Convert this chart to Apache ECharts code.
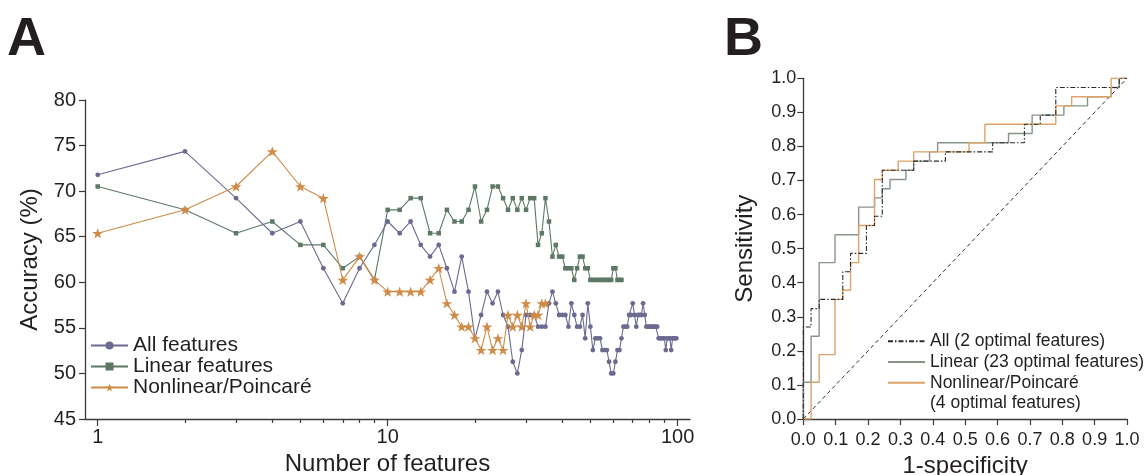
<!DOCTYPE html>
<html>
<head>
<meta charset="utf-8">
<script src="https://cdn.jsdelivr.net/npm/echarts@6/dist/echarts.min.js"></script>
<style>
  html, body { margin: 0; padding: 0; background: #ffffff; }
  #chart { width: 1145px; height: 475px; }
</style>
</head>
<body>
<div id="chart"></div>
<script>
// ---------- Panel A: accuracy (%) versus number of selected features (1..N) ----------
const allFeatures = [
  71.79, 74.36, 69.23, 65.38, 66.67, 61.54, 57.69, 61.54, 64.10, 66.67,
  65.38, 66.67, 64.10, 62.82, 64.10, 61.54, 58.97, 62.82, 58.97, 53.85,
  56.41, 58.97, 57.69, 58.97, 56.41, 55.13, 51.28, 50.00, 52.56, 56.41,
  56.41, 56.41, 55.13, 55.13, 55.13, 57.69, 58.97, 57.69, 56.41, 56.41,
  56.41, 55.13, 57.69, 56.41, 55.13, 55.13, 56.41, 53.85, 57.69, 55.13,
  52.56, 53.85, 53.85, 53.85, 52.56, 52.56, 52.56, 51.28, 50.00, 50.00,
  51.28, 52.56, 52.56, 53.85, 55.13, 55.13, 55.13, 56.41, 56.41, 57.69,
  56.41, 55.13, 56.41, 56.41, 56.41, 57.69, 56.41, 55.13, 55.13, 55.13,
  55.13, 55.13, 55.13, 55.13, 55.13, 53.85, 53.85, 53.85, 53.85, 53.85,
  52.56, 53.85, 53.85, 53.85, 52.56, 53.85, 53.85, 53.85, 53.85
];
const linearFeatures = [
  70.51, 67.95, 65.38, 66.67, 64.10, 64.10, 61.54, 62.82, 60.26, 67.95,
  67.95, 69.23, 69.23, 65.38, 65.38, 67.95, 66.67, 66.67, 67.95, 70.51,
  66.67, 67.95, 70.51, 70.51, 69.23, 67.95, 69.23, 67.95, 69.23, 67.95,
  69.23, 69.23, 64.10, 65.38, 69.23, 66.67, 62.82, 64.10, 62.82, 62.82,
  61.54, 61.54, 61.54, 60.26, 61.54, 62.82, 62.82, 61.54, 61.54, 60.26,
  60.26, 60.26, 60.26, 60.26, 60.26, 60.26, 60.26, 60.26, 60.26, 61.54,
  61.54, 60.26, 60.26, 60.26
];
const nonlinearFeatures = [
  65.38, 67.95, 70.51, 74.36, 70.51, 69.23, 60.26, 62.82, 60.26, 58.97,
  58.97, 58.97, 58.97, 60.26, 61.54, 57.69, 56.41, 55.13, 55.13, 53.85,
  52.56, 55.13, 52.56, 53.85, 52.56, 56.41, 55.13, 56.41, 55.13, 57.69,
  55.13, 56.41, 56.41, 57.69, 57.69
];
const accuracyTicks = [45, 80, 5];            // min, max, step of the y axis
const featureMajorTicks = [1, 10, 100];
const featureMinorTicks = [2, 3, 4, 5, 6, 7, 8, 9, 20, 30, 40, 50, 60, 70, 80, 90];
const FEATURE_MIN = 0.904;                    // log axis runs a little past 1 and 100
const FEATURE_MAX = 110.3;

// ---------- Panel B: ROC curves (corner points of each step curve) ----------
const rocAllFpr = [0, 0, 0.024, 0.049, 0.122, 0.146, 0.195, 0.220, 0.244, 0.341, 0.439, 0.585, 0.683, 0.732, 0.780, 0.976, 1.0];
const rocAllTpr = [0, 0.270, 0.324, 0.351, 0.432, 0.486, 0.568, 0.595, 0.730, 0.757, 0.784, 0.811, 0.865, 0.892, 0.973, 1.0, 1.0];
const rocLinearFpr = [0, 0, 0.024, 0.049, 0.098, 0.171, 0.220, 0.244, 0.268, 0.317, 0.341, 0.390, 0.415, 0.634, 0.707, 0.805, 0.878, 0.951, 0.976, 1.0];
const rocLinearTpr = [0, 0.108, 0.243, 0.459, 0.541, 0.622, 0.649, 0.676, 0.703, 0.730, 0.757, 0.784, 0.811, 0.838, 0.892, 0.919, 0.946, 0.973, 1.0, 1.0];
const rocNonlinearFpr = [0, 0.024, 0.049, 0.098, 0.122, 0.146, 0.171, 0.220, 0.244, 0.293, 0.341, 0.512, 0.561, 0.780, 0.829, 0.951, 1.0];
const rocNonlinearTpr = [0, 0.108, 0.189, 0.351, 0.378, 0.459, 0.568, 0.703, 0.730, 0.757, 0.784, 0.811, 0.865, 0.919, 0.946, 1.0, 1.0];
const chanceLine = [[0, 0], [1, 1]];

const NAMES_A = ['All features', 'Linear features', 'Nonlinear/Poincaré'];
const NAMES_B = ['All (2 optimal features)', 'Linear (23 optimal features)', 'Nonlinear/Poincaré\n(4 optimal features)'];

// ---------- styling ----------
const FONT = '"Liberation Sans", Arial, Helvetica, sans-serif';
const TXT = '#231f20';
const AX = '#3a3a3a';
const C_ALL = '#6c6a90';
const C_LIN = '#5d7865';
const C_NL = '#cf8c49';
const C_ROC_ALL = '#2a2a2a';
const C_ROC_LIN = '#869587';
const C_ROC_NL = '#dca468';
const STAR = 'path://M50,2 L61.8,36.3 L97.6,36.3 L68.6,57.6 L79.4,91.6 L50,70.7 L20.6,91.6 L31.4,57.6 L2.4,36.3 L38.2,36.3 Z';

const byFeatureCount = values => values.map((v, i) => [i + 1, v]);
const rocPoints = (fpr, tpr) => fpr.map((f, i) => [f, tpr[i]]);
const oneDecimal = v => v.toFixed(1);

const axisLineStyle = { color: AX, width: 1.3 };
const tickLineStyle = { color: AX, width: 1.2 };

// Tick marks of the log feature axis are laid on helper axes that share its decades.
const LOG_RANGE = [Math.log10(FEATURE_MIN), Math.log10(FEATURE_MAX)];
const tickAxis = (values, length) => ({
  gridIndex: 0, type: 'value', min: LOG_RANGE[0], max: LOG_RANGE[1], position: 'bottom',
  axisLine: { show: false, onZero: false },
  axisTick: { show: true, customValues: values.map(Math.log10), length: length, lineStyle: tickLineStyle },
  axisLabel: { show: false },
  splitLine: { show: false }
});

const chart = echarts.init(document.getElementById('chart'), null, { renderer: 'canvas' });

chart.setOption({
  animation: false,
  backgroundColor: '#ffffff',
  textStyle: { fontFamily: FONT, color: TXT },
  title: [
    { text: 'A', left: 7, top: 13, padding: 0,
      textStyle: { fontSize: 54, fontWeight: 'bold', color: TXT, fontFamily: FONT } },
    { text: 'B', left: 724, top: 13, padding: 0,
      textStyle: { fontSize: 54, fontWeight: 'bold', color: TXT, fontFamily: FONT } }
  ],
  grid: [
    { left: 85, top: 100, width: 605, height: 319, outerBoundsMode: 'none', containLabel: false },
    { left: 803.3, top: 78.3, width: 323.7, height: 340.7, outerBoundsMode: 'none', containLabel: false }
  ],
  xAxis: [
    {
      gridIndex: 0, type: 'log', logBase: 10, min: FEATURE_MIN, max: FEATURE_MAX, position: 'bottom',
      name: 'Number of features', nameLocation: 'middle', nameGap: 33,
      nameTextStyle: { fontSize: 24, color: TXT, fontFamily: FONT },
      axisLine: { onZero: false, lineStyle: axisLineStyle },
      axisTick: { show: false },
      axisLabel: { fontSize: 20, color: TXT, margin: 8, showMinLabel: false, showMaxLabel: false },
      splitLine: { show: false }, minorTick: { show: false }
    },
    tickAxis(featureMajorTicks, 7),
    tickAxis(featureMinorTicks, 4),
    {
      gridIndex: 1, type: 'value', min: 0, max: 1, interval: 0.1, position: 'bottom',
      name: '1-specificity', nameLocation: 'middle', nameGap: 33,
      nameTextStyle: { fontSize: 24, color: TXT, fontFamily: FONT },
      axisLine: { onZero: false, lineStyle: axisLineStyle },
      axisTick: { length: 6, lineStyle: tickLineStyle },
      axisLabel: { fontSize: 18, color: TXT, margin: 12, formatter: oneDecimal },
      splitLine: { show: false }
    }
  ],
  yAxis: [
    {
      gridIndex: 0, type: 'value', min: accuracyTicks[0], max: accuracyTicks[1], interval: accuracyTicks[2],
      name: 'Accuracy (%)', nameLocation: 'middle', nameGap: 40,
      nameTextStyle: { fontSize: 24, color: TXT, fontFamily: FONT },
      axisLine: { show: true, onZero: false, lineStyle: axisLineStyle },
      axisTick: { show: true, length: 6, lineStyle: tickLineStyle },
      axisLabel: { fontSize: 20, color: TXT, margin: 9 },
      splitLine: { show: false }
    },
    {
      gridIndex: 1, type: 'value', min: 0, max: 1, interval: 0.1,
      name: 'Sensitivity', nameLocation: 'middle', nameGap: 46,
      nameTextStyle: { fontSize: 24, color: TXT, fontFamily: FONT },
      axisLine: { show: true, onZero: false, lineStyle: axisLineStyle },
      axisTick: { show: true, length: 6, lineStyle: tickLineStyle },
      axisLabel: { fontSize: 18, color: TXT, margin: 7, formatter: oneDecimal },
      splitLine: { show: false }
    }
  ],
  legend: [
    {
      data: NAMES_A, orient: 'vertical', left: 90, top: 335, padding: 0,
      itemWidth: 37, itemHeight: 10, itemGap: 0, selectedMode: false,
      textStyle: { fontSize: 21, lineHeight: 21, color: TXT, fontFamily: FONT }
    },
    {
      data: NAMES_B, orient: 'vertical', left: 887, top: 331, padding: 0,
      itemWidth: 37, itemHeight: 9, itemGap: 0, selectedMode: false,
      itemStyle: { opacity: 0 },
      // the second line of the last entry is set just beneath it
      formatter: name => name.split('\n')[0],
      textStyle: { fontSize: 17.5, lineHeight: 20.7, color: TXT, fontFamily: FONT }
    }
  ],
  graphic: [
    {
      type: 'text', left: 930, top: 394,
      style: { text: NAMES_B[2].split('\n')[1], fill: TXT, font: '17.5px ' + FONT }
    }
  ],
  series: [
    {
      name: NAMES_A[1], type: 'line', xAxisIndex: 0, yAxisIndex: 0,
      data: byFeatureCount(linearFeatures),
      symbol: 'rect', symbolSize: 4.5,
      lineStyle: { color: C_LIN, width: 1.1 }, itemStyle: { color: C_LIN }, z: 2
    },
    {
      name: NAMES_A[0], type: 'line', xAxisIndex: 0, yAxisIndex: 0,
      data: byFeatureCount(allFeatures),
      symbol: 'circle', symbolSize: 4.8,
      lineStyle: { color: C_ALL, width: 1.1 }, itemStyle: { color: C_ALL }, z: 3
    },
    {
      name: NAMES_A[2], type: 'line', xAxisIndex: 0, yAxisIndex: 0,
      data: byFeatureCount(nonlinearFeatures),
      symbol: STAR, symbolSize: 11, symbolKeepAspect: true,
      lineStyle: { color: C_NL, width: 1.1 }, itemStyle: { color: C_NL }, z: 4
    },
    {
      type: 'line', xAxisIndex: 3, yAxisIndex: 1, data: chanceLine,
      symbol: 'none', silent: true,
      lineStyle: { color: '#333333', width: 1, type: [4, 3] }, z: 1
    },
    {
      name: NAMES_B[0], type: 'line', xAxisIndex: 3, yAxisIndex: 1,
      data: rocPoints(rocAllFpr, rocAllTpr), step: 'end', symbol: 'none',
      lineStyle: { color: C_ROC_ALL, width: 1.1, type: [5, 2, 1.5, 2] }, itemStyle: { color: C_ROC_ALL }, z: 4
    },
    {
      name: NAMES_B[1], type: 'line', xAxisIndex: 3, yAxisIndex: 1,
      data: rocPoints(rocLinearFpr, rocLinearTpr), step: 'end', symbol: 'none',
      lineStyle: { color: C_ROC_LIN, width: 1.4 }, itemStyle: { color: C_ROC_LIN }, z: 2
    },
    {
      name: NAMES_B[2], type: 'line', xAxisIndex: 3, yAxisIndex: 1,
      data: rocPoints(rocNonlinearFpr, rocNonlinearTpr), step: 'end', symbol: 'none',
      lineStyle: { color: C_ROC_NL, width: 1.4 }, itemStyle: { color: C_ROC_NL }, z: 3
    }
  ]
});
</script>
</body>
</html>
